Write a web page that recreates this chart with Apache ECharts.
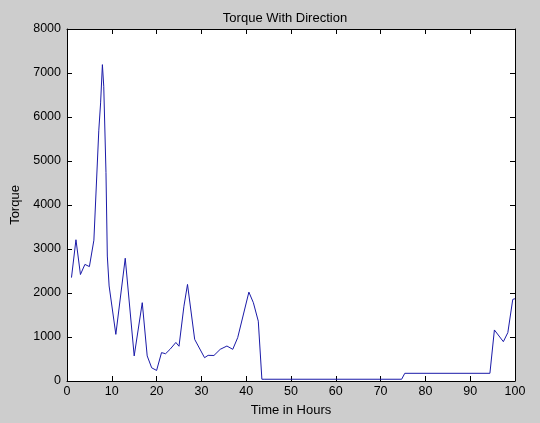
<!DOCTYPE html>
<html>
<head>
<meta charset="utf-8">
<script src="https://cdn.jsdelivr.net/npm/echarts@6/dist/echarts.min.js"></script>
<style>
  html, body { margin: 0; padding: 0; background: #cdcdcd; }
  #chart { width: 540px; height: 423px; }
</style>
</head>
<body>
<div id="chart"></div>
<script>
// hours and torque
var hours = [1, 2, 3, 4, 5, 6, 7.1, 7.5, 7.9, 8.2, 8.7, 9.0, 9.4, 10.9, 13, 15, 16.8, 17.9, 18.9, 20,
  21.1, 22, 23, 24.3, 25, 26.1, 26.9, 28.5, 30.7, 31.5, 32.8, 34.2, 35.7, 37, 38.1, 40.6, 41.6, 42.7,
  43.5, 44, 74.7, 75.4, 94.4, 95.4, 97.4, 98.4, 99.5, 100];
var torque = [2350, 3210, 2420, 2650, 2600, 3200, 5700, 6320, 7190, 6700, 4740, 2840, 2160, 1060, 2790, 570, 1780, 570, 300, 240,
  645, 620, 720, 876, 790, 1700, 2195, 946, 530, 583, 580, 720, 795, 720, 985, 2020, 1780, 1360,
  40, 40, 40, 175, 175, 1160, 894, 1100, 1855, 1870];

var points = hours.map(function (h, i) { return [h, torque[i]]; });

var font = 'Liberation Sans, Arial, sans-serif';
function ticks() {
  return { show: true, inside: true, length: 5, lineStyle: { color: '#000' } };
}

var myChart = echarts.init(document.getElementById('chart'));
myChart.setOption({
  backgroundColor: '#cdcdcd',
  animation: false,
  title: {
    text: 'Torque With Direction',
    left: 280, top: 7, textAlign: 'center',
    textStyle: { fontFamily: font, fontSize: 13, fontWeight: 'normal', color: '#000' }
  },
  grid: { left: 67, right: 25, top: 29, bottom: 42, show: true, backgroundColor: '#fff', borderWidth: 0 },
  xAxis: [{
    type: 'value', min: 0, max: 100, interval: 10,
    name: 'Time in Hours', nameLocation: 'middle', nameGap: 23,
    nameTextStyle: { fontFamily: font, fontSize: 13, color: '#000' },
    axisLine: { show: true, onZero: false, lineStyle: { color: '#000' } },
    axisTick: ticks(),
    axisLabel: { fontFamily: font, fontSize: 12.5, color: '#000', margin: 4 },
    splitLine: { show: false }
  }, {
    type: 'value', position: 'top', min: 0, max: 100, interval: 10,
    axisLine: { show: true, onZero: false, lineStyle: { color: '#000' } },
    axisTick: ticks(), axisLabel: { show: false }, splitLine: { show: false }
  }],
  yAxis: [{
    type: 'value', min: 0, max: 8000, interval: 1000,
    name: 'Torque', nameLocation: 'middle', nameGap: 38,
    nameTextStyle: { fontFamily: font, fontSize: 13, color: '#000' },
    axisLine: { show: true, onZero: false, lineStyle: { color: '#000' } },
    axisTick: ticks(),
    axisLabel: { fontFamily: font, fontSize: 12.5, color: '#000', margin: 6, formatter: function (v) { return String(v); } },
    splitLine: { show: false }
  }, {
    type: 'value', position: 'right', min: 0, max: 8000, interval: 1000,
    axisLine: { show: true, onZero: false, lineStyle: { color: '#000' } },
    axisTick: ticks(), axisLabel: { show: false }, splitLine: { show: false }
  }],
  series: [{
    type: 'line',
    data: points,
    showSymbol: false,
    lineStyle: { color: '#1a1aa8', width: 1 },
    itemStyle: { color: '#1a1aa8' }
  }]
});

window.addEventListener('resize', function () {
  myChart.resize();
}, false);
</script>
</body>
</html>
